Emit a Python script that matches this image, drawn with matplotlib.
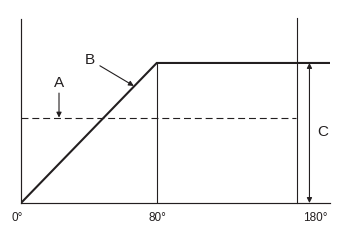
import numpy as np
import matplotlib.pyplot as plt

# schematic: angle (deg) vs level
curve_x = [0, 80, 180, 204]
curve_y = [0, 1.0, 1.0, 1.0]
dashed_level = 0.61
x_ticks = [0, 80, 180]
x_tick_labels = ['0°', '80°', '180°']

# axis is not to scale: 0-80 is stretched compared with 80-180
_deg = [0, 80, 180, 300]
_pos = [0, 136, 276, 444]


def fwd(x):
    return np.interp(x, _deg, _pos)


def inv(p):
    return np.interp(p, _pos, _deg)


plt.rcParams['font.family'] = ['Liberation Sans', 'DejaVu Sans']
plt.rcParams['lines.scale_dashes'] = False

fig = plt.figure(figsize=(3.4, 2.4), dpi=100)
ax = fig.add_axes([21 / 340, 37 / 240, 309 / 340, 184 / 240])
ax.set_xscale('function', functions=(fwd, inv))
ax.set_xlim(0, 204)
ax.set_ylim(0, 1.314)

ax.plot(curve_x, curve_y, color='#231f20', lw=1.5, solid_joinstyle='miter')
ax.plot([80, 80], [0, 1.0], color='#231f20', lw=0.8)
ax.plot([180.5, 180.5], [0, 1.32], color='#231f20', lw=0.8, clip_on=False)
ax.plot([0, 180], [dashed_level, dashed_level], color='#231f20', lw=0.8,
        dashes=(5, 2.8))

for s in ['top', 'right']:
    ax.spines[s].set_visible(False)
for s in ['left', 'bottom']:
    ax.spines[s].set_linewidth(0.85)
    ax.spines[s].set_color('#231f20')

ax.set_xticks([])
ax.set_yticks([])
ax.minorticks_off()

# tick labels placed by hand (the 180 label sits right of its line)
lab_dx = [-4, 1, 19]
for xt, lab, dx in zip(x_ticks, x_tick_labels, lab_dx):
    ax.annotate(lab, xy=(xt, 0), xytext=(dx * 0.72, -11), textcoords='offset points',
                ha='center', va='center', fontsize=8.5, color='#231f20')

arrow_kw = dict(arrowstyle='-|>', color='#231f20', lw=0.8,
                mutation_scale=7.5, shrinkA=0, shrinkB=0)

# A
ax.text(22.4, 0.86, 'A', ha='center', va='center', fontsize=11, color='#231f20')
ax.annotate('', xy=(22.4, dashed_level), xytext=(22.4, 0.785), arrowprops=arrow_kw)

# B
ax.text(40.6, 1.02, 'B', ha='center', va='center', fontsize=11, color='#231f20')
ax.annotate('', xy=(66.5, 0.836), xytext=(46.5, 0.98), arrowprops=arrow_kw)

# C
c_kw = dict(arrow_kw, arrowstyle='<|-|>')
ax.annotate('', xy=(189.3, 0), xytext=(189.3, 1.0), arrowprops=c_kw)
ax.text(198.6, 0.507, 'C', ha='center', va='center', fontsize=11, color='#231f20')

fig.savefig('out.png', dpi=100, facecolor='white')
